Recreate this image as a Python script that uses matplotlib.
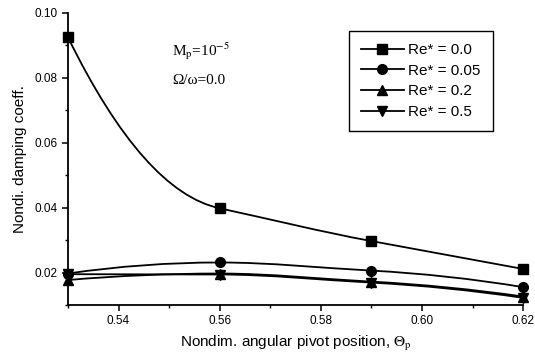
import matplotlib
matplotlib.use("Agg")
import matplotlib.pyplot as plt
from matplotlib.path import Path
from matplotlib.patches import PathPatch
from matplotlib.ticker import MultipleLocator, FormatStrFormatter
from matplotlib.lines import Line2D

plt.rcParams['font.family'] = ['Liberation Sans', 'DejaVu Sans']
plt.rcParams['mathtext.fontset'] = 'stix'

# pivot positions
theta_p = [0.53, 0.56, 0.59, 0.62]

# damping coefficient for each Re*
re_labels = ["Re* = 0.0", "Re* = 0.05", "Re* = 0.2", "Re* = 0.5"]
damp_re000 = [0.0925, 0.0398, 0.0297, 0.0211]
damp_re005 = [0.0197, 0.0231, 0.0206, 0.0155]
damp_re020 = [0.0177, 0.0197, 0.0172, 0.0126]
damp_re050 = [0.0195, 0.0194, 0.0169, 0.0122]
markers = ['s', 'o', '^', 'v']


def smooth_path(x, y):
    # cubic bezier through the points, tangent = flatter neighbouring slope
    n = len(x)
    d = [(y[i + 1] - y[i]) / (x[i + 1] - x[i]) for i in range(n - 1)]
    m = [0.0] * n
    for i in range(1, n - 1):
        if d[i - 1] * d[i] <= 0:
            m[i] = 0.0
        else:
            m[i] = d[i - 1] if abs(d[i - 1]) < abs(d[i]) else d[i]
    m[0] = 2 * d[0] - m[1]
    m[-1] = 2 * d[-1] - m[-2]
    verts = [(x[0], y[0])]
    codes = [Path.MOVETO]
    for i in range(n - 1):
        h = x[i + 1] - x[i]
        verts += [(x[i] + h / 3, y[i] + m[i] * h / 3),
                  (x[i + 1] - h / 3, y[i + 1] - m[i + 1] * h / 3),
                  (x[i + 1], y[i + 1])]
        codes += [Path.CURVE4] * 3
    return Path(verts, codes)


fig = plt.figure(figsize=(5.35, 3.58), dpi=100)
ax = fig.add_axes([0.127, 0.148, 0.851, 0.816])

series = [damp_re000, damp_re005, damp_re020, damp_re050]
handles = []
for ys, mk, lab in zip(series, markers, re_labels):
    ax.add_patch(PathPatch(smooth_path(theta_p, ys), facecolor='none',
                           edgecolor='black', lw=1.3, clip_on=False))
    ax.plot(theta_p, ys, linestyle='none', marker=mk, color='black',
            markersize=7, clip_on=False, zorder=3)
    handles.append(Line2D([], [], color='black', lw=1.3, marker=mk, markersize=7))

ax.set_xlim(0.53, 0.62)
ax.set_ylim(0.01, 0.10)
ax.spines['top'].set_visible(False)
ax.spines['right'].set_visible(False)
ax.spines['left'].set_linewidth(1.3)
ax.spines['bottom'].set_linewidth(1.3)

ax.xaxis.set_major_locator(MultipleLocator(0.02))
ax.xaxis.set_minor_locator(MultipleLocator(0.01))
ax.yaxis.set_major_locator(MultipleLocator(0.02))
ax.yaxis.set_minor_locator(MultipleLocator(0.01))
ax.xaxis.set_major_formatter(FormatStrFormatter('%.2f'))
ax.yaxis.set_major_formatter(FormatStrFormatter('%.2f'))
ax.tick_params(which='major', direction='out', length=4, width=1.1, labelsize=8.5)
ax.tick_params(which='minor', direction='out', length=2.5, width=1.0)

ax.set_xlabel(r'Nondim. angular pivot position, $\Theta_\mathrm{p}$', fontsize=11, labelpad=5)
ax.set_ylabel('Nondi. damping coeff.', fontsize=11, labelpad=5)

ax.text(0.229, 0.853, r'M$_\mathrm{p}$=10$^{-5}$', transform=ax.transAxes,
        family=['Liberation Serif', 'DejaVu Serif'], fontsize=11, va='baseline')
ax.text(0.229, 0.757, 'Ω/ω=0.0', transform=ax.transAxes,
        family=['Liberation Serif', 'DejaVu Serif'], fontsize=11, va='baseline')

leg = ax.legend(handles, re_labels, loc='upper right', bbox_to_anchor=(0.95, 0.965),
                fontsize=11, handlelength=2.8, labelspacing=0.44, borderpad=0.8,
                fancybox=False, framealpha=1, edgecolor='black', handletextpad=0.3)
leg.get_frame().set_linewidth(1.0)

fig.savefig('out.png', dpi=100)
